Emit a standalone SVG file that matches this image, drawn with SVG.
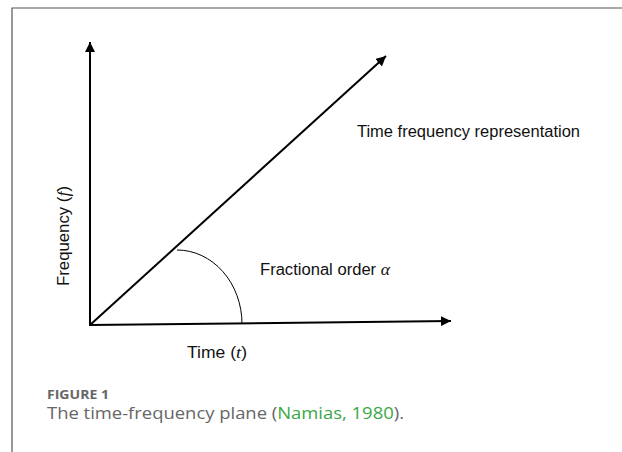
<svg xmlns="http://www.w3.org/2000/svg" width="622" height="452" viewBox="0 0 622 452">
<defs>
<style>
.ax{stroke:#000;stroke-width:2;fill:none}
.arc{stroke:#000;stroke-width:1;fill:none}
.lbl{font-family:"Liberation Sans",Arial,sans-serif;font-size:16px;fill:#111}
.math{font-family:"Liberation Serif","Times New Roman",serif;font-style:italic}
.cap{font-family:"Open Sans",Lato,sans-serif;fill:#666}
</style>
<marker id="ah" viewBox="0 0 10 10" refX="10" refY="5" markerWidth="5" markerHeight="5" orient="auto" markerUnits="strokeWidth">
<path d="M0,0 L10,5 L0,10 z" fill="#000"/>
</marker>
</defs>
<rect width="622" height="452" fill="#fff"/>
<path d="M12,452 V8 H622" stroke="#555" stroke-width="1.2" fill="none"/>
<g id="connectors">
<line class="ax" x1="90" y1="326" x2="90" y2="42" marker-end="url(#ah)"/>
<line class="ax" x1="90" y1="325" x2="451" y2="321" marker-end="url(#ah)"/>
<line class="ax" x1="90" y1="325" x2="386" y2="56" marker-end="url(#ah)"/>
<path class="arc" d="M177,250 A65,74 0 0 1 242,324"/>
</g>
<g id="tfr"><text class="lbl" x="357" y="137" textLength="223" lengthAdjust="spacingAndGlyphs">Time frequency representation</text></g>
<g id="alpha"><text class="lbl" x="260" y="275" textLength="130" lengthAdjust="spacingAndGlyphs">Fractional order <tspan class="math" font-size="17">α</tspan></text></g>
<g id="time"><text class="lbl" x="187" y="358" textLength="60" lengthAdjust="spacingAndGlyphs">Time (<tspan class="math" font-size="17">t</tspan>)</text></g>
<g id="freq"><text class="lbl" transform="translate(69,286) rotate(-90)" textLength="100" lengthAdjust="spacingAndGlyphs">Frequency (<tspan class="math" font-size="17">f</tspan>)</text></g>
<g id="caption">
<text class="cap" x="47" y="399" font-size="13" font-weight="bold" textLength="62" lengthAdjust="spacingAndGlyphs">FIGURE 1</text>
<text class="cap" x="47" y="419" font-size="16" fill="#5a5a5a" textLength="357" lengthAdjust="spacingAndGlyphs">The time-frequency plane (<tspan fill="#3aa845">Namias, 1980</tspan>).</text>
</g>
</svg>
